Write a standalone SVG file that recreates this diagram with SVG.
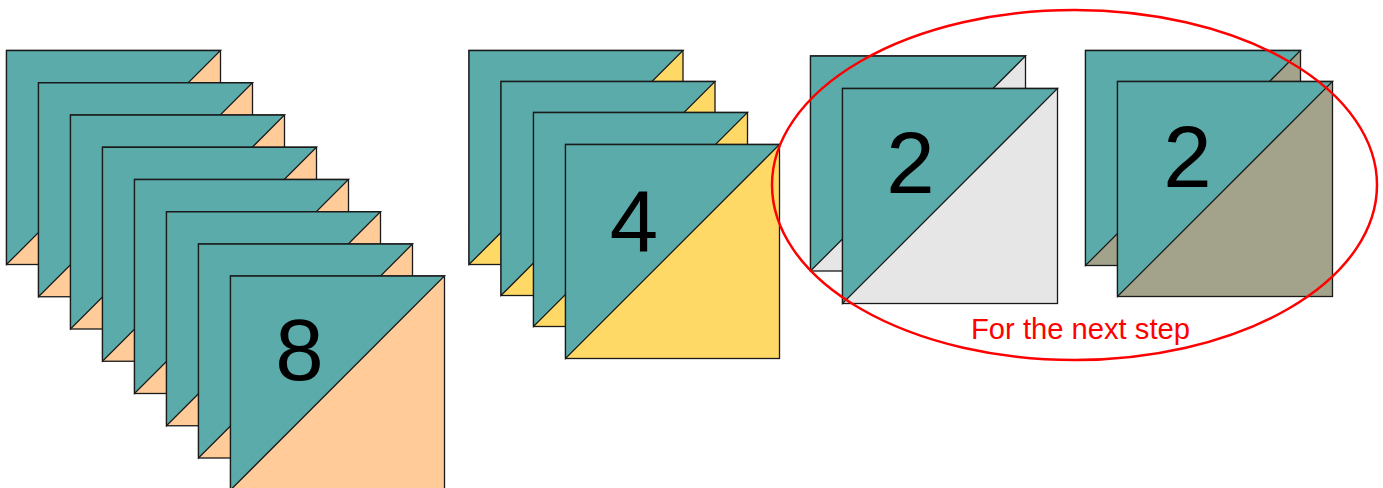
<svg xmlns="http://www.w3.org/2000/svg" xmlns:xlink="http://www.w3.org/1999/xlink" width="1383" height="488" viewBox="0 0 1383 488">
<style>
.teal{fill:#5BABAB}
.edge{stroke:#1a1a1a;stroke-width:1.3}
.back .edge{stroke:#4a4a4a}
.num{font-family:"Liberation Sans",Arial,sans-serif;font-size:87px;fill:#000;text-anchor:middle}
.note{font-family:"Liberation Sans",Arial,sans-serif;font-size:29px;fill:#FF0000}
</style>
<defs>
<g id="tp"><rect class="edge" width="214" height="214" fill="#FFCC99"/><polygon class="teal edge" points="0,0 214,0 0,214"/></g>
<g id="ty"><rect class="edge" width="214" height="214" fill="#FFD966"/><polygon class="teal edge" points="0,0 214,0 0,214"/></g>
<g id="tg"><rect class="edge" width="215" height="215" fill="#E7E6E6"/><polygon class="teal edge" points="0,0 215,0 0,215"/></g>
<g id="tk"><rect class="edge" width="215" height="215" fill="#A3A28A"/><polygon class="teal edge" points="0,0 215,0 0,215"/></g>
</defs>
<g id="stack8">
<use href="#tp" x="6.5" y="50.5" class="back"/>
<use href="#tp" x="38.5" y="82.75"/>
<use href="#tp" x="70.5" y="115"/>
<use href="#tp" x="102.5" y="147.25"/>
<use href="#tp" x="134.5" y="179.5"/>
<use href="#tp" x="166.5" y="211.75"/>
<use href="#tp" x="198.5" y="244"/>
<use href="#tp" x="230.5" y="276"/>
<text class="num" x="299.5" y="380">8</text>
</g>
<g id="stack4">
<use href="#ty" x="469" y="50.5" class="back"/>
<use href="#ty" x="501" y="81.5" class="back"/>
<use href="#ty" x="533.5" y="112.5" class="back"/>
<use href="#ty" x="565.5" y="144.5"/>
<text class="num" x="634" y="251.5">4</text>
</g>
<g id="stack2-grey">
<use href="#tg" x="810.5" y="56" class="back"/>
<use href="#tg" x="842.5" y="88.5"/>
<text class="num" x="910.5" y="192.5">2</text>
</g>
<g id="stack2-khaki">
<use href="#tk" x="1085.5" y="50.5" class="back"/>
<use href="#tk" x="1117.5" y="81.5"/>
<text class="num" x="1187.5" y="186.5">2</text>
</g>
<g id="next-step">
<ellipse cx="1074.5" cy="185" rx="302.5" ry="175" fill="none" stroke="#FF0000" stroke-width="2.5"/>
<text class="note" x="971" y="339" textLength="219" lengthAdjust="spacingAndGlyphs">For the next step</text>
</g>
</svg>
